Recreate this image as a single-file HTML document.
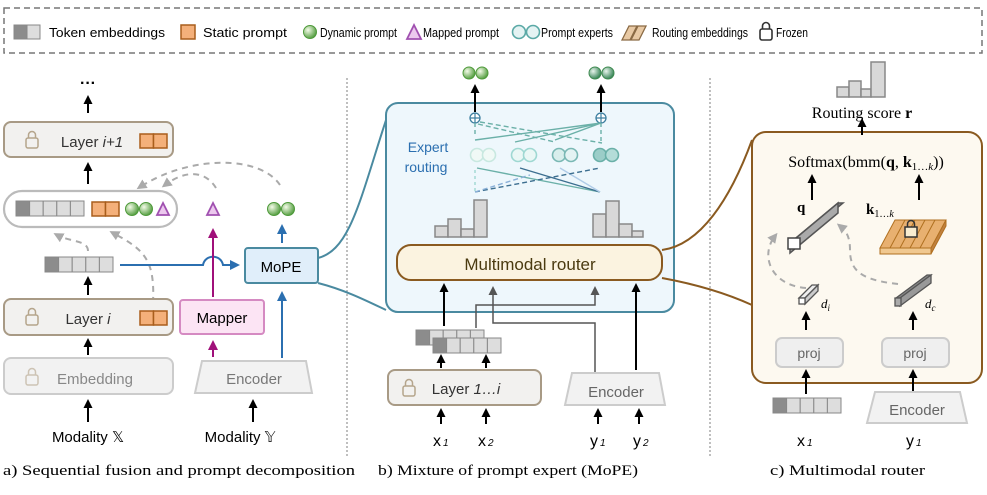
<!DOCTYPE html>
<html><head><meta charset="utf-8"><style>
body{margin:0;background:#fff}
svg{display:block;font-family:"Liberation Sans",sans-serif}
.s{font-family:"Liberation Serif",serif}
</style></head><body>
<svg width="987" height="495" viewBox="0 0 987 495" xmlns="http://www.w3.org/2000/svg">
<defs>
<marker id="ak" markerWidth="9" markerHeight="9" refX="5" refY="4.5" orient="auto" markerUnits="userSpaceOnUse"><path d="M0,0 L9,4.5 L0,9 z" fill="#000"/></marker>
<marker id="ab" markerWidth="10" markerHeight="10" refX="6" refY="5" orient="auto" markerUnits="userSpaceOnUse"><path d="M0,0 L10,5 L0,10 z" fill="#2b6fb0"/></marker>
<marker id="ap" markerWidth="10" markerHeight="10" refX="6" refY="5" orient="auto" markerUnits="userSpaceOnUse"><path d="M0,0 L10,5 L0,10 z" fill="#a0107a"/></marker>
<marker id="ag" markerWidth="10" markerHeight="10" refX="6" refY="5" orient="auto" markerUnits="userSpaceOnUse"><path d="M0,0 L10,5 L0,10 z" fill="#aaa"/></marker>
<marker id="ad" markerWidth="9" markerHeight="9" refX="5" refY="4.5" orient="auto" markerUnits="userSpaceOnUse"><path d="M0,0 L9,4.5 L0,9 z" fill="#555"/></marker>
<radialGradient id="gr" cx="0.35" cy="0.35" r="0.7"><stop offset="0" stop-color="#f4fbe8"/><stop offset="1" stop-color="#4e9a3a"/></radialGradient>
<radialGradient id="gr2" cx="0.35" cy="0.35" r="0.7"><stop offset="0" stop-color="#e8f4ec"/><stop offset="1" stop-color="#2f7f50"/></radialGradient>
<g id="lock"><rect x="-6" y="-3" width="12" height="10" rx="2" fill="none" stroke="#b5a58c" stroke-width="1.5"/><path d="M-3.5,-3 v-3 a3.5,3.5 0 0 1 7,0 v3" fill="none" stroke="#b5a58c" stroke-width="1.5"/></g>
<g id="tok"><rect x="0" y="0" width="13.6" height="15" fill="#8c8c8c" stroke="#888"/><rect x="13.6" y="0" width="13.6" height="15" fill="#ddd" stroke="#888"/><rect x="27.2" y="0" width="13.6" height="15" fill="#ddd" stroke="#888"/><rect x="40.8" y="0" width="13.6" height="15" fill="#ddd" stroke="#888"/><rect x="54.4" y="0" width="13.6" height="15" fill="#ddd" stroke="#888"/></g>
<g id="org"><rect x="0" y="0" width="13.5" height="14" fill="#f4b07a" stroke="#a95e1c" stroke-width="1.5"/><rect x="13.5" y="0" width="13.5" height="14" fill="#f4b07a" stroke="#a95e1c" stroke-width="1.5"/></g>
</defs>

<!-- legend -->
<rect x="4" y="8" width="978" height="45" fill="none" stroke="#777" stroke-width="1.5" stroke-dasharray="6,4"/>
<rect x="14" y="25" width="13" height="14" fill="#8c8c8c" stroke="#888"/><rect x="27" y="25" width="13" height="14" fill="#ddd" stroke="#888"/>
<g font-size="13">
<text x="49" y="37" textLength="116" lengthAdjust="spacingAndGlyphs">Token embeddings</text>
<rect x="181" y="25" width="14" height="14" fill="#f4b07a" stroke="#a95e1c" stroke-width="1.5"/>
<text x="203" y="37" textLength="84" lengthAdjust="spacingAndGlyphs">Static prompt</text>
<circle cx="310" cy="32" r="6.5" fill="url(#gr)" stroke="#4e9a3a"/>
<text x="320" y="37" textLength="77" lengthAdjust="spacingAndGlyphs">Dynamic prompt</text>
<path d="M407,39 L414,25 L421,39 z" fill="#ecc8ee" stroke="#a050b0" stroke-width="1.8"/>
<text x="423" y="37" textLength="76" lengthAdjust="spacingAndGlyphs">Mapped prompt</text>
<circle cx="519" cy="32" r="6.5" fill="#e4f3f3" stroke="#5aa9a6" stroke-width="1.6"/><circle cx="533" cy="32" r="6.5" fill="#e4f3f3" stroke="#5aa9a6" stroke-width="1.6"/>
<text x="541" y="37" textLength="72" lengthAdjust="spacingAndGlyphs">Prompt experts</text>
<path d="M622,40 l7,-14 h8 l-7,14z M631,40 l7,-14 h8 l-7,14z" fill="#e8c9a4" stroke="#8a6a44" stroke-width="1.3"/>
<text x="652" y="37" textLength="96" lengthAdjust="spacingAndGlyphs">Routing embeddings</text>
<rect x="760" y="29" width="12" height="11" rx="2" fill="none" stroke="#333" stroke-width="1.6"/><path d="M762.5,29 v-3 a3.5,3.5 0 0 1 7,0 v3" fill="none" stroke="#333" stroke-width="1.6"/>
<text x="776" y="37" textLength="32" lengthAdjust="spacingAndGlyphs">Frozen</text>
</g>

<!-- separators -->
<line x1="347" y1="78" x2="347" y2="458" stroke="#aaa" stroke-width="1.5" stroke-dasharray="2,2"/>
<line x1="710" y1="78" x2="710" y2="458" stroke="#aaa" stroke-width="1.5" stroke-dasharray="2,2"/>

<!-- ===== panel a ===== -->
<text x="88" y="88" font-size="16" font-weight="bold" text-anchor="middle">···</text>
<line x1="88" y1="113" x2="88" y2="99" stroke="#000" stroke-width="2" marker-end="url(#ak)"/>
<rect x="4" y="122" width="169" height="35" rx="7" fill="#f2f1ef" stroke="#a89a85" stroke-width="2"/>
<use href="#lock" x="32" y="141"/>
<text x="92" y="147" font-size="15" text-anchor="middle" fill="#333">Layer <tspan font-style="italic">i+1</tspan></text>
<use href="#org" x="140" y="134"/>
<line x1="88" y1="184" x2="88" y2="166" stroke="#000" stroke-width="2" marker-end="url(#ak)"/>
<rect x="4" y="191" width="173" height="36" rx="18" fill="#fff" stroke="#bbb" stroke-width="2.2"/>
<use href="#tok" x="16" y="201"/>
<use href="#org" x="92" y="202"/>
<circle cx="132" cy="209" r="6.5" fill="url(#gr)" stroke="#4e9a3a"/><circle cx="146" cy="209" r="6.5" fill="url(#gr)" stroke="#4e9a3a"/>
<path d="M157,215 L163,203 L169,215 z" fill="#ecc8ee" stroke="#a050b0" stroke-width="1.8"/>
<path d="M207,215 L213,203 L219,215 z" fill="#ecc8ee" stroke="#a050b0" stroke-width="1.8"/>
<circle cx="274" cy="209" r="6.5" fill="url(#gr)" stroke="#4e9a3a"/><circle cx="288" cy="209" r="6.5" fill="url(#gr)" stroke="#4e9a3a"/>
<path d="M280,185 C260,155 190,155 140,187" fill="none" stroke="#aaa" stroke-width="2" stroke-dasharray="6,5" marker-end="url(#ag)"/>
<path d="M216,188 C205,170 185,170 165,185" fill="none" stroke="#aaa" stroke-width="2" stroke-dasharray="6,5" marker-end="url(#ag)"/>
<path d="M88,251 C88,240 70,242 57,235" fill="none" stroke="#aaa" stroke-width="2" stroke-dasharray="6,5" marker-end="url(#ag)"/>
<path d="M153,303 C155,260 145,250 113,233" fill="none" stroke="#aaa" stroke-width="2" stroke-dasharray="6,5" marker-end="url(#ag)"/>
<use href="#tok" x="45" y="257"/>
<line x1="88" y1="295" x2="88" y2="280" stroke="#000" stroke-width="2" marker-end="url(#ak)"/>
<path d="M120,265 H203 C205,254 221,254 223,265 H236" fill="none" stroke="#2b6fb0" stroke-width="2" marker-end="url(#ab)"/>
<rect x="245" y="248" width="73" height="35" rx="3" fill="#e0eefa" stroke="#4a8aa0" stroke-width="2"/>
<text x="281" y="272" font-size="15" text-anchor="middle">MoPE</text>
<rect x="4" y="299" width="169" height="36" rx="7" fill="#f2f1ef" stroke="#a89a85" stroke-width="2"/>
<use href="#lock" x="32" y="318"/>
<text x="88" y="324" font-size="15" text-anchor="middle" fill="#333">Layer <tspan font-style="italic">i</tspan></text>
<use href="#org" x="140" y="311"/>
<rect x="180" y="300" width="84" height="34" rx="3" fill="#fce4f4" stroke="#d58ac2" stroke-width="2"/>
<text x="222" y="323" font-size="15" text-anchor="middle">Mapper</text>
<line x1="213" y1="297" x2="213" y2="232" stroke="#a0107a" stroke-width="2" marker-end="url(#ap)"/>
<line x1="213" y1="357" x2="213" y2="344" stroke="#a0107a" stroke-width="2" marker-end="url(#ap)"/>
<line x1="282" y1="358" x2="282" y2="295" stroke="#2b6fb0" stroke-width="2" marker-end="url(#ab)"/>
<line x1="282" y1="243" x2="282" y2="228" stroke="#2b6fb0" stroke-width="2" marker-end="url(#ab)"/>
<line x1="88" y1="355" x2="88" y2="342" stroke="#000" stroke-width="2" marker-end="url(#ak)"/>
<rect x="4" y="358" width="169" height="36" rx="7" fill="#f2f2f2" stroke="#ccc" stroke-width="2"/>
<use href="#lock" x="32" y="378" opacity="0.6"/>
<text x="95" y="384" font-size="15" text-anchor="middle" fill="#888">Embedding</text>
<path d="M202,361 H306 L312,393 H195 z" fill="#f2f2f2" stroke="#ccc" stroke-width="2"/>
<text x="254" y="384" font-size="15" text-anchor="middle" fill="#777">Encoder</text>
<line x1="88" y1="422" x2="88" y2="403" stroke="#000" stroke-width="2" marker-end="url(#ak)"/>
<line x1="253" y1="422" x2="253" y2="403" stroke="#000" stroke-width="2" marker-end="url(#ak)"/>
<text x="88" y="442" font-size="15" text-anchor="middle">Modality 𝕏</text>
<text x="240" y="442" font-size="15" text-anchor="middle">Modality 𝕐</text>

<!-- ===== panel b ===== -->
<path d="M318,258 C350,250 360,200 386,120" fill="none" stroke="#4a8aa0" stroke-width="2"/>
<path d="M318,283 C345,290 365,300 386,310" fill="none" stroke="#4a8aa0" stroke-width="2"/>
<rect x="386" y="103" width="288" height="209" rx="12" fill="#eef7fc" stroke="#4a8aa0" stroke-width="2"/>
<circle cx="469" cy="73" r="6" fill="url(#gr)" stroke="#4e9a3a"/><circle cx="482" cy="73" r="6" fill="url(#gr)" stroke="#4e9a3a"/>
<circle cx="595" cy="73" r="6" fill="url(#gr2)" stroke="#3e8a50"/><circle cx="608" cy="73" r="6" fill="url(#gr2)" stroke="#3e8a50"/>
<line x1="475" y1="112" x2="475" y2="88" stroke="#000" stroke-width="2" marker-end="url(#ak)"/>
<line x1="601" y1="112" x2="601" y2="88" stroke="#000" stroke-width="2" marker-end="url(#ak)"/>
<g stroke="#3d7fa0" stroke-width="1.3" fill="#fff"><circle cx="475" cy="118" r="5"/><circle cx="601" cy="118" r="5"/></g>
<path d="M470,118h10M475,113v10M596,118h10M601,113v10" stroke="#3d7fa0" stroke-width="1.2"/>
<g stroke="#6bb0a8" stroke-width="1.4" fill="none">
<path d="M475,123 v12 M601,123 v20" stroke-dasharray="4,3"/>
<path d="M478,124 L555,142 M480,122 L602,143" stroke-dasharray="5,3"/>
<path d="M601,123 L475,140 M601,123 L515,142 M601,123 L555,140"/>
</g>
<g stroke-width="1.6">
<circle cx="477" cy="155" r="6.5" fill="#f0f9f6" stroke="#c8e8e0"/><circle cx="489" cy="155" r="6.5" fill="#f0f9f6" stroke="#c8e8e0"/>
<circle cx="518" cy="155" r="6.5" fill="#eaf7f5" stroke="#9fd8d2"/><circle cx="530" cy="155" r="6.5" fill="#eaf7f5" stroke="#9fd8d2"/>
<circle cx="559" cy="155" r="6.5" fill="#d8eeec" stroke="#7ab8b4"/><circle cx="571" cy="155" r="6.5" fill="#e4f3f3" stroke="#7ab8b4"/>
<circle cx="600" cy="155" r="6.5" fill="#9bcdc8" stroke="#6ab0a8"/><circle cx="612" cy="155" r="6.5" fill="#b4dcd8" stroke="#6ab0a8"/>
</g>
<g stroke-width="1.4" fill="none">
<path d="M477,168 L600,192" stroke="#6bb0a8"/>
<path d="M520,168 L600,192" stroke="#3d6f90"/>
<path d="M560,168 L600,192" stroke="#b0cce8"/>
<path d="M475,192 L600,168" stroke="#3d6f90" stroke-dasharray="5,3"/>
<path d="M475,192 L530,175" stroke="#8ab0d8" stroke-dasharray="5,3"/>
<path d="M475,170 v22" stroke="#9fd8d2" stroke-dasharray="3,3"/>
</g>
<text x="428" y="152" font-size="14" text-anchor="middle" fill="#2b6fb0">Expert</text>
<text x="426" y="172" font-size="14" text-anchor="middle" fill="#2b6fb0">routing</text>
<g fill="#d8d8d8" stroke="#888" stroke-width="1.5">
<rect x="435" y="226" width="13" height="11"/><rect x="448" y="219" width="13" height="18"/><rect x="461" y="229" width="13" height="8"/><rect x="474" y="200" width="13" height="37"/>
<rect x="593" y="214" width="13" height="23"/><rect x="606" y="201" width="13" height="36"/><rect x="619" y="224" width="13" height="13"/><rect x="632" y="231" width="11" height="6"/>
</g>
<rect x="397" y="245" width="265" height="35" rx="14" fill="#fbf3e0" stroke="#8a5a20" stroke-width="2"/>
<text x="530" y="270" font-size="17" text-anchor="middle" fill="#4a3a10">Multimodal router</text>
<line x1="444" y1="326" x2="444" y2="287" stroke="#000" stroke-width="2" marker-end="url(#ak)"/>
<path d="M476,328 V305 H595 V290" fill="none" stroke="#555" stroke-width="1.5" marker-end="url(#ad)"/>
<path d="M595,372 V323 H493 V290" fill="none" stroke="#555" stroke-width="1.5" marker-end="url(#ad)"/>
<line x1="636" y1="370" x2="636" y2="287" stroke="#000" stroke-width="2" marker-end="url(#ak)"/>
<use href="#tok" x="416" y="330"/>
<g transform="translate(433,338)"><use href="#tok"/></g>
<line x1="441" y1="368" x2="441" y2="358" stroke="#000" stroke-width="2" marker-end="url(#ak)"/>
<line x1="486" y1="368" x2="486" y2="358" stroke="#000" stroke-width="2" marker-end="url(#ak)"/>
<rect x="388" y="370" width="153" height="35" rx="7" fill="#f2f1ef" stroke="#a89a85" stroke-width="2"/>
<use href="#lock" x="409" y="389"/>
<text x="466" y="394" font-size="15" text-anchor="middle" fill="#333">Layer <tspan font-style="italic">1…i</tspan></text>
<path d="M572,373 H659 L665,405 H565 z" fill="#f2f2f2" stroke="#ccc" stroke-width="2"/>
<text x="616" y="397" font-size="15" text-anchor="middle" fill="#666">Encoder</text>
<g stroke="#000" stroke-width="2"><line x1="441" y1="424" x2="441" y2="412" marker-end="url(#ak)"/><line x1="486" y1="424" x2="486" y2="412" marker-end="url(#ak)"/><line x1="598" y1="424" x2="598" y2="412" marker-end="url(#ak)"/><line x1="639" y1="424" x2="639" y2="412" marker-end="url(#ak)"/></g>
<g font-size="16"><text x="433" y="446">x<tspan font-size="10" font-style="italic" dx="2">1</tspan></text><text x="478" y="446">x<tspan font-size="10" font-style="italic" dx="2">2</tspan></text><text x="590" y="446">y<tspan font-size="10" font-style="italic" dx="2">1</tspan></text><text x="633" y="446">y<tspan font-size="10" font-style="italic" dx="2">2</tspan></text></g>

<!-- ===== panel c ===== -->
<path d="M662,250 C700,245 730,200 752,140" fill="none" stroke="#8a5a20" stroke-width="2"/>
<path d="M662,278 C700,285 730,295 752,305" fill="none" stroke="#8a5a20" stroke-width="2"/>
<rect x="752" y="132" width="230" height="251" rx="14" fill="#fdf9f0" stroke="#8a5a20" stroke-width="2"/>
<g fill="#d8d8d8" stroke="#888" stroke-width="1.5"><rect x="837" y="87" width="12" height="10"/><rect x="849" y="81" width="12" height="16"/><rect x="861" y="89" width="10" height="8"/><rect x="871" y="62" width="14" height="35"/></g>
<text x="862" y="118" font-size="16" text-anchor="middle" class="s">Routing score <tspan font-weight="bold">r</tspan></text>
<line x1="862" y1="135" x2="862" y2="122" stroke="#000" stroke-width="2" marker-end="url(#ak)"/>
<text x="866" y="167" font-size="16" text-anchor="middle" class="s">Softmax(bmm(<tspan font-weight="bold">q</tspan>, <tspan font-weight="bold">k</tspan><tspan font-size="11" dy="3">1…<tspan font-style="italic">k</tspan></tspan><tspan dy="-3">))</tspan></text>
<line x1="812" y1="200" x2="812" y2="178" stroke="#000" stroke-width="2" marker-end="url(#ak)"/>
<line x1="919" y1="200" x2="919" y2="178" stroke="#000" stroke-width="2" marker-end="url(#ak)"/>
<text x="797" y="212" font-size="15" font-weight="bold" class="s">q</text>
<path d="M790,243 L838,203 L843,203 L795,243 z" fill="#888" stroke="#555" stroke-width="1.5"/>
<path d="M790,243 L838,203 V213 L790,253 z" fill="#aaa" stroke="#555" stroke-width="1.5"/>
<rect x="788" y="238" width="12" height="11" fill="#fff" stroke="#444" stroke-width="1.5"/>
<text x="866" y="214" font-size="15" font-weight="bold" class="s">k<tspan font-size="10" font-weight="normal" dy="3">1…<tspan font-style="italic">k</tspan></tspan></text>
<g stroke="#b07020" stroke-width="1"><path d="M880,248 L895,220 H946 L931,248 z" fill="#e8b070"/>
<path d="M880,248 H931 V254 H880 z" fill="#f0c890"/><path d="M931,248 L946,220 V226 L931,254z" fill="#c08040"/>
<path d="M890,248 L905,220 M900,248 L915,220 M910,248 L925,220 M920,248 L935,220" fill="none"/></g>
<rect x="905" y="227" width="12" height="10" fill="#f8ecd0" stroke="#333" stroke-width="1.5"/><path d="M907.5,227 v-3 a3.5,3.5 0 0 1 7,0 v3" fill="none" stroke="#333" stroke-width="1.5"/>
<path d="M806,288 C770,285 760,255 775,236" fill="none" stroke="#aaa" stroke-width="2" stroke-dasharray="6,5" marker-end="url(#ag)"/>
<path d="M898,284 C860,280 850,270 850,250 C850,235 845,230 840,226" fill="none" stroke="#aaa" stroke-width="2" stroke-dasharray="6,5" marker-end="url(#ag)"/>
<path d="M799,298 L812,285 H818 L805,298z" fill="#eee" stroke="#555" stroke-width="1.3"/><path d="M805,298 L818,285 V291 L805,304z" fill="#ccc" stroke="#555" stroke-width="1.3"/><rect x="799" y="298" width="6" height="6" fill="#fff" stroke="#555" stroke-width="1.3"/>
<text x="821" y="308" font-size="13" font-style="italic" class="s">d<tspan font-size="9" dy="3">i</tspan></text>
<path d="M896,298 L927,275 H931 L900,298z" fill="#888" stroke="#555" stroke-width="1.3"/><path d="M900,298 L931,275 V283 L900,306z" fill="#999" stroke="#555" stroke-width="1.3"/><rect x="895" y="298" width="6" height="8" fill="#aaa" stroke="#555" stroke-width="1.3"/>
<text x="925" y="308" font-size="13" font-style="italic" class="s">d<tspan font-size="9" dy="3">c</tspan></text>
<line x1="806" y1="330" x2="806" y2="315" stroke="#000" stroke-width="2" marker-end="url(#ak)"/>
<line x1="913" y1="330" x2="913" y2="315" stroke="#000" stroke-width="2" marker-end="url(#ak)"/>
<rect x="776" y="338" width="67" height="29" rx="6" fill="#efefef" stroke="#ccc" stroke-width="2"/>
<text x="809" y="358" font-size="14" text-anchor="middle" fill="#666">proj</text>
<rect x="882" y="338" width="67" height="29" rx="6" fill="#efefef" stroke="#ccc" stroke-width="2"/>
<text x="915" y="358" font-size="14" text-anchor="middle" fill="#666">proj</text>
<line x1="806" y1="394" x2="806" y2="373" stroke="#000" stroke-width="2" marker-end="url(#ak)"/>
<line x1="913" y1="394" x2="913" y2="373" stroke="#000" stroke-width="2" marker-end="url(#ak)"/>
<use href="#tok" x="773" y="398"/>
<path d="M875,392 H960 L967,423 H867 z" fill="#f2f2f2" stroke="#ccc" stroke-width="2"/>
<text x="917" y="415" font-size="15" text-anchor="middle" fill="#666">Encoder</text>
<g font-size="16"><text x="797" y="446">x<tspan font-size="10" font-style="italic" dx="2">1</tspan></text><text x="906" y="446">y<tspan font-size="10" font-style="italic" dx="2">1</tspan></text></g>

<g class="s" font-size="15">
<text x="3" y="475" textLength="352" lengthAdjust="spacingAndGlyphs">a) Sequential fusion and prompt decomposition</text>
<text x="378" y="475" textLength="260" lengthAdjust="spacingAndGlyphs">b) Mixture of prompt expert (MoPE)</text>
<text x="770" y="475" textLength="155" lengthAdjust="spacingAndGlyphs">c) Multimodal router</text>
</g>
</svg>
</body></html>
